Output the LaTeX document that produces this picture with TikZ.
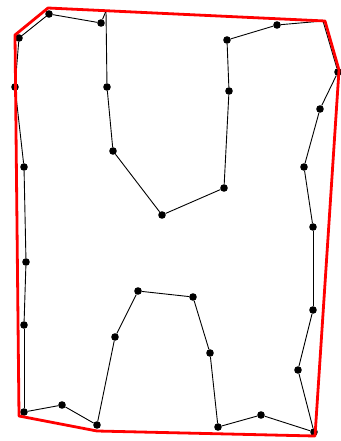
\documentclass[tikz,border=0pt]{standalone}
\usetikzlibrary{calc}

\tikzset{
  dot/.style={circle, fill=black, inner sep=0pt, minimum size=7.6pt},
  kink/.style={inner sep=0pt, minimum size=0pt},
  edge/.style={black, line width=0.9pt},
  hull/.style={red, line width=2.8pt, line join=round}
}

\begin{document}
\begin{tikzpicture}[x=1pt,y=-1pt]
\useasboundingbox (0,0) rectangle (340,441);

% Sample points (along the H-shaped outline)
\foreach \x/\y/\k [count=\i] in {49/14/dot, 19/38/dot, 15/87/dot,
  24/167/dot, 26/262/dot, 24/325/dot, 24/412/dot, 62/405/dot, 97/425/dot,
  115/337/dot, 138/291/dot, 193/297/dot, 210/353/dot, 218/427/dot,
  261/415/dot, 314/432/dot, 298/370/dot, 313/310/dot, 313/227/dot,
  304/167/dot, 320/109/dot, 338/72/dot, 323/21/kink, 277/25/dot,
  227/40/dot, 229/91/dot, 224/188/dot, 162/215/dot, 113/151/dot,
  107/87/dot, 106/11/kink, 101/23/dot}{
  \node[\k] (p\i) at (\x,\y) {};
}

% Outline through the points
\foreach \i [remember=\i as \j (initially 32)] in {1,...,32}{
  \draw[edge] (p\j) -- (p\i);
}

% Convex hull corners
\coordinate (h1) at (48,8);
\coordinate (h2) at (15,35);
\coordinate (h3) at (19,416);
\coordinate (h4) at (97,431);
\coordinate (h5) at (315,436);
\coordinate (h6) at (339,70);
\coordinate (h7) at (325,21);

% Convex hull
\draw[hull] (h1) -- (h2) -- (h3) -- (h4) -- (h5) -- (h6) -- (h7) -- cycle;
\end{tikzpicture}
\end{document}
